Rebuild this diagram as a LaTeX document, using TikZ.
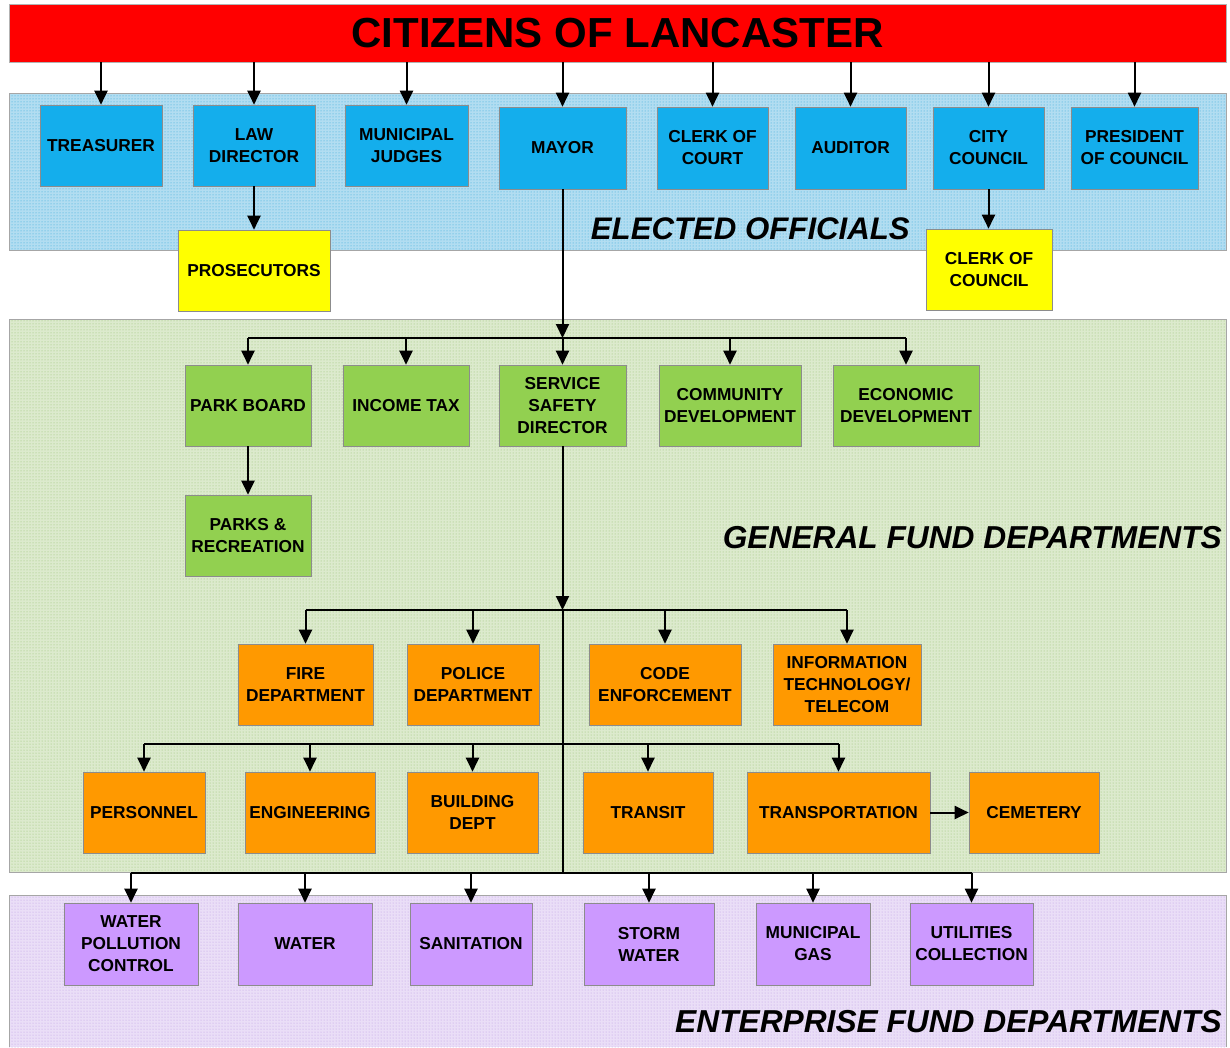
\documentclass[tikz,border=0pt]{standalone}
\usepackage{fontspec}
\setmainfont{Liberation Sans}
\usetikzlibrary{arrows.meta,patterns}
\definecolor{titlered}{HTML}{FF0000}
\definecolor{boxblue}{HTML}{14AEEC}
\definecolor{boxgreen}{HTML}{92D050}
\definecolor{boxyellow}{HTML}{FFFF00}
\definecolor{boxorange}{HTML}{FF9900}
\definecolor{boxpurple}{HTML}{CC99FF}
\definecolor{bandblue}{HTML}{B2DDF1}
\definecolor{dotblue}{HTML}{2FA6DA}
\definecolor{bandgreen}{HTML}{DCEACD}
\definecolor{dotgreen}{HTML}{96C072}
\definecolor{bandpurple}{HTML}{EADEF7}
\definecolor{dotpurple}{HTML}{BB9CE2}
\begin{document}
\begin{tikzpicture}[x=1pt,y=-1pt,
  box/.style={draw=black!45, line width=0.6pt, minimum height=81pt, inner sep=0pt,
    align=center, font=\bfseries\fontsize{17.3}{22}\selectfont, text=black},
  bluebox/.style={box, fill=boxblue},
  greenbox/.style={box, fill=boxgreen},
  yellowbox/.style={box, fill=boxyellow},
  orangebox/.style={box, fill=boxorange},
  purplebox/.style={box, fill=boxpurple},
  bandlabel/.style={anchor=east, inner sep=0pt, font=\bfseries\itshape\fontsize{31.7}{31.7}\selectfont, text=black},
  arr/.style={line width=2pt, -{Triangle[length=14pt,width=13pt]}},
  ln/.style={line width=2pt}]
\useasboundingbox (0,0) rectangle (1230,1047);
% bands
\fill[bandblue] (9,93) rectangle (1226,250);
\fill[pattern=dots, pattern color=dotblue] (9,93) rectangle (1226,250);
\draw[black!35, line width=0.6pt] (9,93) rectangle (1226,250);
\fill[bandgreen] (9,319) rectangle (1226,872);
\fill[pattern=dots, pattern color=dotgreen] (9,319) rectangle (1226,872);
\draw[black!35, line width=0.6pt] (9,319) rectangle (1226,872);
\fill[bandpurple] (9,895) rectangle (1226,1047);
\fill[pattern=dots, pattern color=dotpurple] (9,895) rectangle (1226,1047);
\draw[black!35, line width=0.6pt] (9,1047) -- (9,895) -- (1226,895) -- (1226,1047);
% title
\node[fill=titlered, draw=black!30, line width=0.6pt, minimum width=1217pt, minimum height=58pt, inner sep=0pt,
  font=\bfseries\fontsize{42}{42}\selectfont, text=black] (title) at (617.5,33) {CITIZENS OF LANCASTER};
% elected officials
\node[bluebox, minimum width=122pt] (treas) at (101,145.5) {TREASURER};
\node[bluebox, minimum width=122pt] (law) at (254,145.5) {LAW\\DIRECTOR};
\node[bluebox, minimum width=123pt] (judges) at (406.5,145.5) {MUNICIPAL\\JUDGES};
\node[bluebox, minimum width=127pt, minimum height=82pt] (mayor) at (562.5,148) {MAYOR};
\node[bluebox, minimum width=111pt, minimum height=82pt] (clerkc) at (712.5,148) {CLERK OF\\COURT};
\node[bluebox, minimum width=111pt, minimum height=82pt] (auditor) at (850.5,148) {AUDITOR};
\node[bluebox, minimum width=111pt, minimum height=82pt] (council) at (988.5,148) {CITY\\COUNCIL};
\node[bluebox, minimum width=127pt, minimum height=82pt] (pres) at (1134.5,148) {PRESIDENT\\OF COUNCIL};
\node[yellowbox, minimum width=152pt] (pros) at (254,270.5) {PROSECUTORS};
\node[yellowbox, minimum width=126pt] (clerkcn) at (989,269.5) {CLERK OF\\COUNCIL};
\node[bandlabel, font=\bfseries\itshape\fontsize{31.2}{31.2}\selectfont] (lblelected) at (910,229) {ELECTED OFFICIALS};
% general fund
\node[greenbox, minimum width=126pt] (park) at (248,405.5) {PARK BOARD};
\node[greenbox, minimum width=126pt] (income) at (406,405.5) {INCOME TAX};
\node[greenbox, minimum width=127pt] (ssd) at (562.5,405.5) {SERVICE\\SAFETY\\DIRECTOR};
\node[greenbox, minimum width=142pt] (comm) at (730,405.5) {COMMUNITY\\DEVELOPMENT};
\node[greenbox, minimum width=146pt] (econ) at (906,405.5) {ECONOMIC\\DEVELOPMENT};
\node[greenbox, minimum width=126pt] (parks) at (248,535.5) {PARKS \&\\RECREATION};
\node[bandlabel] (lblgeneral) at (1222,538) {GENERAL FUND DEPARTMENTS};
\node[orangebox, minimum width=135pt] (fire) at (305.5,684.5) {FIRE\\DEPARTMENT};
\node[orangebox, minimum width=132pt] (police) at (473,684.5) {POLICE\\DEPARTMENT};
\node[orangebox, minimum width=152pt] (code) at (665,684.5) {CODE\\ENFORCEMENT};
\node[orangebox, minimum width=148pt] (it) at (847,684.5) {INFORMATION\\TECHNOLOGY/\\TELECOM};
\node[orangebox, minimum width=122pt] (personnel) at (144,812.5) {PERSONNEL};
\node[orangebox, minimum width=130pt] (eng) at (310,812.5) {ENGINEERING};
\node[orangebox, minimum width=131pt] (building) at (472.5,812.5) {BUILDING\\DEPT};
\node[orangebox, minimum width=130pt] (transit) at (648,812.5) {TRANSIT};
\node[orangebox, minimum width=183pt] (transp) at (838.5,812.5) {TRANSPORTATION};
\node[orangebox, minimum width=130pt] (cemetery) at (1034,812.5) {CEMETERY};
% enterprise fund
\node[purplebox, minimum width=134pt, minimum height=82pt] (wpc) at (131,944) {WATER\\POLLUTION\\CONTROL};
\node[purplebox, minimum width=134pt, minimum height=82pt] (water) at (305,944) {WATER};
\node[purplebox, minimum width=122pt, minimum height=82pt] (sanit) at (471,944) {SANITATION};
\node[purplebox, minimum width=130pt, minimum height=82pt] (storm) at (649,944) {STORM\\WATER};
\node[purplebox, minimum width=114pt, minimum height=82pt] (gas) at (813,944) {MUNICIPAL\\GAS};
\node[purplebox, minimum width=123pt, minimum height=82pt] (util) at (971.5,944) {UTILITIES\\COLLECTION};
\node[bandlabel] (lblenterprise) at (1222,1022) {ENTERPRISE FUND DEPARTMENTS};
% connectors: citizens to officials
\foreach \n in {treas,law,judges,mayor,clerkc,auditor,council,pres}
  \draw[arr] (title.south -| \n.north) -- (\n.north);
\draw[arr] (law.south) -- (pros.north);
\draw[arr] (council.south) -- (council.south |- clerkcn.north);
% mayor to general fund
\coordinate (j1) at (562.5,338);
\draw[arr] (mayor.south) -- (j1);
\draw[ln] (park.north |- j1) -- (econ.north |- j1);
\foreach \n in {park,income,ssd,comm,econ}
  \draw[arr] (\n.north |- j1) -- (\n.north);
\draw[arr] (park.south) -- (parks.north);
% service safety director
\coordinate (j2) at (562.5,610);
\coordinate (j3) at (562.5,744);
\coordinate (j4) at (562.5,873);
\draw[arr] (ssd.south) -- (j2);
\draw[ln] (j2) -- (j4);
\draw[ln] (fire.north |- j2) -- (it.north |- j2);
\foreach \n in {fire,police,code,it}
  \draw[arr] (\n.north |- j2) -- (\n.north);
\draw[ln] (personnel.north |- j3) -- (transp.north |- j3);
\foreach \n in {personnel,eng,building,transit,transp}
  \draw[arr] (\n.north |- j3) -- (\n.north);
\draw[arr] (transp) -- (cemetery);
\draw[ln] (wpc.north |- j4) -- (util.north |- j4);
\foreach \n in {wpc,water,sanit,storm,gas,util}
  \draw[arr] (\n.north |- j4) -- (\n.north);
\end{tikzpicture}
\end{document}
